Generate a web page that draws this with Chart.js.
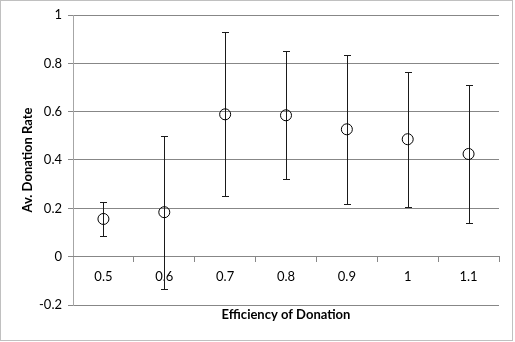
<!DOCTYPE html>
<html>
<head>
<meta charset="utf-8">
<script src="https://cdn.jsdelivr.net/npm/chart.js@4/dist/chart.umd.min.js"></script>
<style>
html,body{margin:0;padding:0;background:#fff;}
#wrap{position:absolute;left:0;top:0;width:511px;height:339px;border:1px solid #c0c0c0;}
canvas{display:block;}
</style>
</head>
<body>
<div id="wrap"><canvas id="c" width="511" height="339"></canvas></div>
<script>
const categories = ['0.5','0.6','0.7','0.8','0.9','1','1.1'];
const meanRate = [0.156, 0.184, 0.589, 0.585, 0.527, 0.486, 0.425];
const upperRate = [0.225, 0.499, 0.928, 0.852, 0.836, 0.764, 0.712];
const lowerRate = [0.084, -0.135, 0.252, 0.320, 0.218, 0.207, 0.139];
const yTicks = [-0.2, 0, 0.2, 0.4, 0.6, 0.8, 1];

const FONT = 'Lato, "Open Sans", sans-serif';

const errorBars = {
  id: 'errorBars',
  beforeDatasetsDraw(chart) {
    const ctx = chart.ctx, x = chart.scales.x, y = chart.scales.y;
    ctx.save();
    ctx.strokeStyle = '#1a1a1a';
    ctx.lineWidth = 1;
    categories.forEach((c, i) => {
      const px = Math.round(x.getPixelForValue(i)) + 0.5;
      const hi = Math.round(y.getPixelForValue(upperRate[i])) + 0.5;
      const lo = Math.round(y.getPixelForValue(lowerRate[i])) + 0.5;
      ctx.beginPath();
      ctx.moveTo(px, hi); ctx.lineTo(px, lo);
      ctx.moveTo(px - 3.5, hi); ctx.lineTo(px + 3.5, hi);
      ctx.moveTo(px - 3.5, lo); ctx.lineTo(px + 3.5, lo);
      ctx.stroke();
    });
    ctx.restore();
  }
};

new Chart(document.getElementById('c'), {
  type: 'line',
  data: {
    labels: categories,
    datasets: [{
      data: meanRate,
      showLine: false,
      pointRadius: 5.5,
      pointHoverRadius: 5.5,
      pointBorderWidth: 1,
      pointBorderColor: '#000',
      pointBackgroundColor: 'rgba(255,255,255,0)',
      xAxisID: 'x'
    }]
  },
  options: {
    responsive: false,
    animation: false,
    events: [],
    layout: { padding: { top: 14, right: 13, left: 19, bottom: 17 } },
    plugins: { legend: { display: false }, tooltip: { enabled: false } },
    scales: {
      y: {
        min: -0.2, max: 1,
        afterBuildTicks(s) { s.ticks = yTicks.map(v => ({ value: v })); },
        afterFit(s) { s.width = 53; },
        grid: { color: '#878787', tickLength: 5, drawTicks: true },
        border: { display: true, color: '#a6a6a6' },
        ticks: {
          padding: 6,
          color: '#000',
          font: { family: FONT, size: 13 },
          callback: v => String(Math.round(v * 10) / 10)
        },
        title: {
          display: true, text: 'Av. Donation Rate', color: '#000',
          font: { family: FONT, size: 13, weight: 'bold' }, padding: 0
        }
      },
      x: {
        type: 'category',
        position: { y: 0 },
        offset: true,
        grid: { offset: true, drawOnChartArea: false, drawTicks: true, tickLength: 5, color: '#878787' },
        border: { display: true, color: '#878787' },
        ticks: { padding: 7, color: '#000', font: { family: FONT, size: 13 }, maxRotation: 0 }
      },
      x2: {
        type: 'category',
        position: 'bottom',
        offset: true,
        grid: { display: false },
        border: { display: false },
        ticks: { display: false },
        afterFit(s) { s.height = 18; },
        title: {
          display: true, text: 'Efficiency of Donation', color: '#000',
          font: { family: FONT, size: 13, weight: 'bold' }, padding: { top: 2, bottom: 0 }
        }
      }
    }
  },
  plugins: [errorBars]
});
</script>
</body>
</html>
